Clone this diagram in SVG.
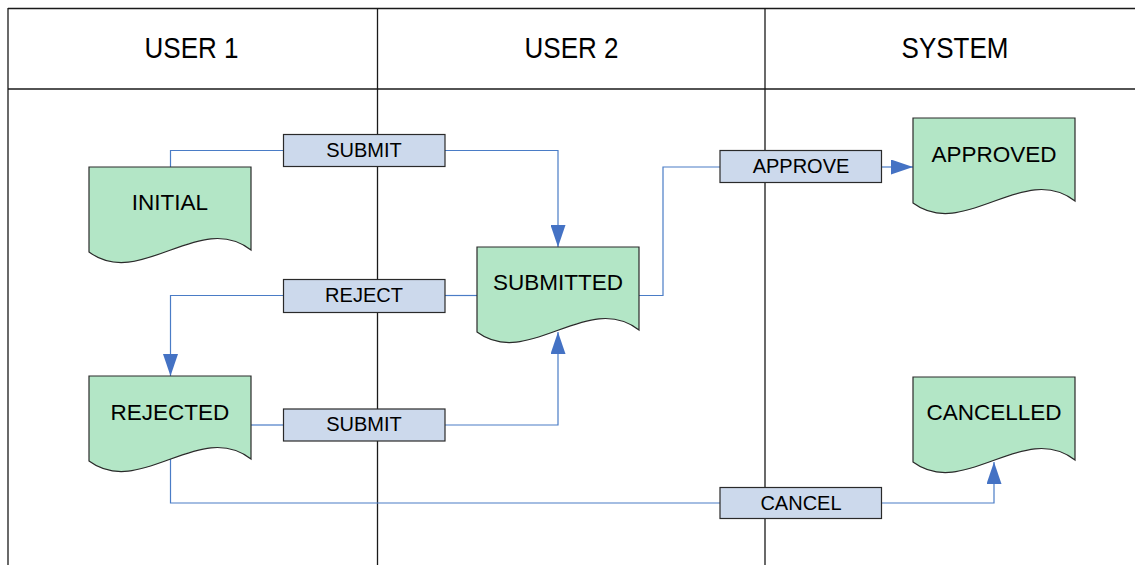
<svg xmlns="http://www.w3.org/2000/svg" width="1135" height="565" viewBox="0 0 1135 565">
<style>
.lane{stroke:#1a1a1a;stroke-width:1.3;fill:none}
.hdr{font-family:"Liberation Sans",Arial,sans-serif;font-size:26px;fill:#000;text-anchor:middle}
.doc{fill:#B3E6C6;stroke:#2a2a2a;stroke-width:1.2}
.dt{font-family:"Liberation Sans",Arial,sans-serif;font-size:22.5px;fill:#000;text-anchor:middle}
.lbl{fill:#CCD9EC;stroke:#2a2a2a;stroke-width:1.2}
.lt{font-family:"Liberation Sans",Arial,sans-serif;font-size:20px;fill:#000;text-anchor:middle}
.con{stroke:#4A7CC6;stroke-width:1.2;fill:none}
</style>
<defs>
<marker id="arr" markerUnits="userSpaceOnUse" markerWidth="22" markerHeight="15" refX="22" refY="7.5" orient="auto">
<path d="M0,0 L22,7.5 L0,15 Z" fill="#4472C4"/>
</marker>
</defs>
<rect width="1135" height="565" fill="#fff"/>
<g id="lanes">
<line class="lane" x1="8" y1="8.5" x2="1135" y2="8.5"/>
<line class="lane" x1="8" y1="89" x2="1135" y2="89"/>
<line class="lane" x1="8" y1="8" x2="8" y2="565"/>
<line class="lane" x1="377.5" y1="8" x2="377.5" y2="565"/>
<line class="lane" x1="765" y1="8" x2="765" y2="565"/>
<text class="hdr" transform="translate(191.5,58) scale(1,1.1)">USER 1</text>
<text class="hdr" transform="translate(571.5,58) scale(1,1.1)">USER 2</text>
<text class="hdr" transform="translate(955,58) scale(1,1.1)">SYSTEM</text>
</g>
<g id="connectors">
<polyline class="con" points="170.5,167 170.5,150.5 283,150.5"/>
<polyline class="con" points="445,150.5 558,150.5 558,247" marker-end="url(#arr)"/>
<polyline class="con" points="477,295.5 445,295.5"/>
<polyline class="con" points="283,295.5 170.5,295.5 170.5,376" marker-end="url(#arr)"/>
<polyline class="con" points="251,425 283,425"/>
<polyline class="con" points="445,425 558,425 558,332" marker-end="url(#arr)"/>
<polyline class="con" points="639,295.5 663,295.5 663,167 720,167"/>
<polyline class="con" points="881,167 913,167" marker-end="url(#arr)"/>
<polyline class="con" points="170.5,459 170.5,503 720,503"/>
<polyline class="con" points="881,503 994,503 994,462" marker-end="url(#arr)"/>
</g>
<g id="initial">
<path class="doc" d="M89,167 H251 V250 C200,210 140,290 89,252 Z"/>
<text class="dt" x="170" y="210">INITIAL</text>
</g>
<g id="submitted">
<path class="doc" d="M477,247 H639 V330 C588,290 528,370 477,332 Z"/>
<text class="dt" x="558" y="290">SUBMITTED</text>
</g>
<g id="approved">
<path class="doc" d="M913,118 H1075 V201 C1024,161 964,241 913,203 Z"/>
<text class="dt" x="994" y="161.5">APPROVED</text>
</g>
<g id="rejected">
<path class="doc" d="M89,376 H251 V459 C200,419 140,499 89,461 Z"/>
<text class="dt" x="170" y="420">REJECTED</text>
</g>
<g id="cancelled">
<path class="doc" d="M913,377 H1075 V460 C1024,420 964,500 913,462 Z"/>
<text class="dt" x="994" y="420">CANCELLED</text>
</g>
<g id="lbl-submit1">
<rect class="lbl" x="283.5" y="134.5" width="161.5" height="32"/>
<text class="lt" x="364" y="156.5">SUBMIT</text>
</g>
<g id="lbl-reject">
<rect class="lbl" x="283.5" y="279.5" width="161.5" height="33"/>
<text class="lt" x="364" y="302">REJECT</text>
</g>
<g id="lbl-submit2">
<rect class="lbl" x="283.5" y="409" width="161.5" height="32"/>
<text class="lt" x="364" y="431">SUBMIT</text>
</g>
<g id="lbl-approve">
<rect class="lbl" x="720" y="150.5" width="161.5" height="32"/>
<text class="lt" x="801" y="173">APPROVE</text>
</g>
<g id="lbl-cancel">
<rect class="lbl" x="720" y="487.5" width="161.5" height="31"/>
<text class="lt" x="801" y="509.5">CANCEL</text>
</g>
</svg>
